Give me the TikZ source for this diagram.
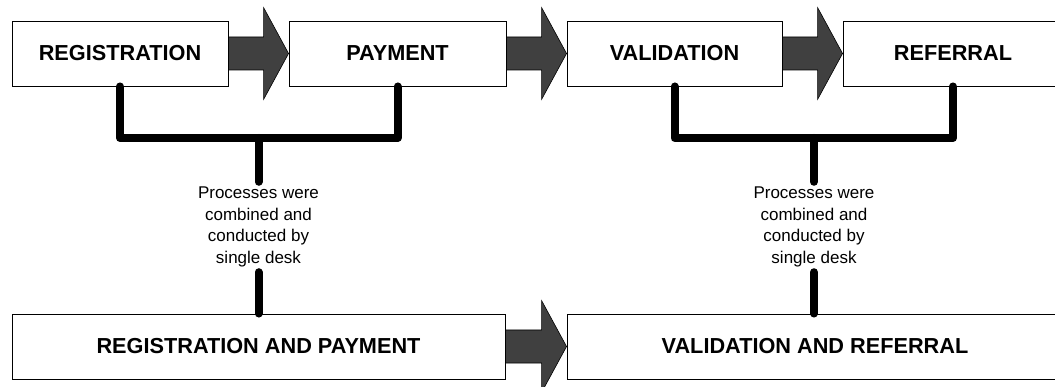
\documentclass[tikz,border=0pt]{standalone}
\usepackage{fontspec}
\setmainfont{Liberation Sans}
\usetikzlibrary{calc}

\tikzset{
  stage/.style={draw=black, line width=0.9pt, fill=white, inner sep=0pt,
    minimum height=65pt, font=\fontsize{21.7}{26}\selectfont\bfseries},
  note/.style={align=center, inner sep=0pt, minimum height=90pt,
    font=\fontsize{17}{21.5}\selectfont},
  bracket/.style={line width=8pt, line cap=round, line join=round},
  blockarrow/.style={fill=black!75, draw=black, line width=0.6pt, line join=miter}
}

% block arrow from the east side of #1 to the west side of #2
\newcommand\flowarrow[2]{%
  \path[blockarrow]
    ($(#1.east)+(0,-16.5)$) -- ($(#2.west)+(-25,-16.5)$)
    -- ($(#2.west)+(-25,-46)$) -- (#2.west)
    -- ($(#2.west)+(-25,46)$) -- ($(#2.west)+(-25,16.5)$)
    -- ($(#1.east)+(0,16.5)$) -- cycle;}

\begin{document}
\begin{tikzpicture}[x=1pt, y=-1pt]
  \useasboundingbox (0,0) rectangle (1055,387);
  \clip (0,0) rectangle (1055,387);
  \fill[white] (0,0) rectangle (1055,387);

  % original four stages
  \node[stage, minimum width=216pt] (reg) at (120,53.5)   {REGISTRATION};
  \node[stage, minimum width=217pt] (pay) at (397.5,53.5) {PAYMENT};
  \node[stage, minimum width=215pt] (val) at (674.5,53.5) {VALIDATION};
  \node[stage, minimum width=220pt] (ref) at (953,53.5)   {REFERRAL};

  % combined stages
  \node[stage, minimum width=493pt] (regpay) at (258.5,346.5) {REGISTRATION AND PAYMENT};
  \node[stage, minimum width=496pt] (valref) at (815,346.5)   {VALIDATION AND REFERRAL};

  % flow arrows
  \flowarrow{reg}{pay}
  \flowarrow{pay}{val}
  \flowarrow{val}{ref}
  \flowarrow{regpay}{valref}

  % explanatory notes
  \node[note] (notel) at (258.5,227) {Processes were\\combined and\\conducted by\\single desk};
  \node[note] (noter) at (814,227)   {Processes were\\combined and\\conducted by\\single desk};

  % brackets joining the merged stages
  \coordinate (jl) at (258.5,138);
  \coordinate (jr) at (814,138);
  \draw[bracket] (reg.south) |- (jl) -| (pay.south);
  \draw[bracket] (jl) -- (notel.north);
  \draw[bracket] (notel.south) -- (regpay.north);
  \draw[bracket] (val.south) |- (jr) -| (ref.south);
  \draw[bracket] (jr) -- (noter.north);
  \draw[bracket] (noter.south) -- (valref.north -| jr);
\end{tikzpicture}
\end{document}
